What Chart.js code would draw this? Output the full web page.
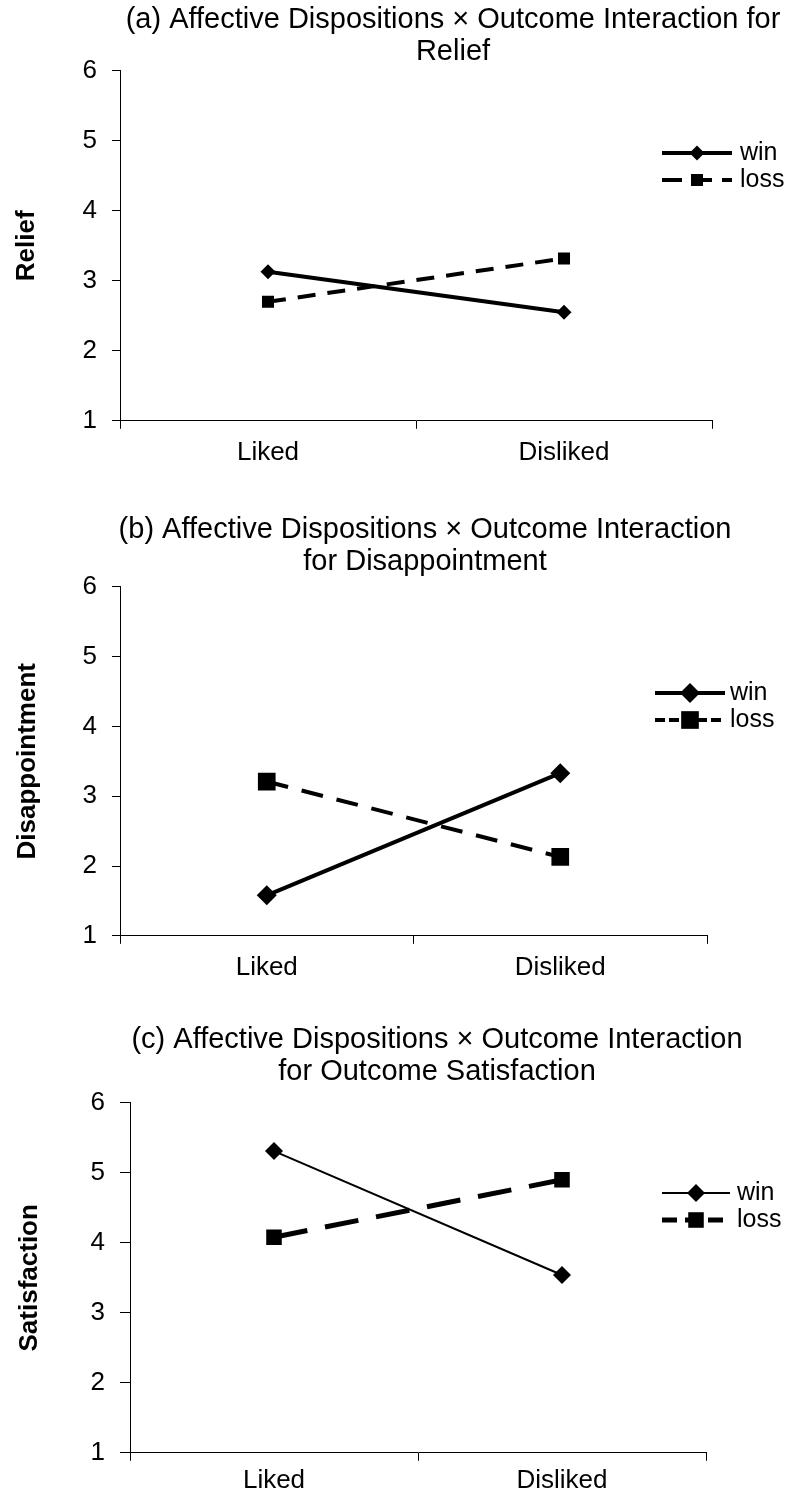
<!DOCTYPE html>
<html>
<head>
<meta charset="utf-8">
<title>Affective Dispositions x Outcome</title>
<script src="https://cdn.jsdelivr.net/npm/chart.js"></script>
<style>
  html, body { margin: 0; padding: 0; background: #fff; }
  body { width: 788px; height: 1492px; position: relative; overflow: hidden; }
  canvas { position: absolute; left: 0; }
</style>
</head>
<body>
<canvas id="relief_chart" width="906" height="480" style="top:0px"></canvas>
<canvas id="disappointment_chart" width="850" height="484" style="top:510px"></canvas>
<canvas id="satisfaction_chart" width="874" height="480" style="top:1020px"></canvas>
<script>
/* ----------------------------------------- */
/*                 data                      */
/* ----------------------------------------- */
const categories = ["Liked", "Disliked"];
const series_names = ["win", "loss"];

// (a) relief
const relief_win = [3.13, 2.55];
const relief_loss = [2.7, 3.32];

// (b) disappointment
const disappointment_win = [1.58, 3.33];
const disappointment_loss = [3.21, 2.13];

// (c) outcome satisfaction
const satisfaction_win = [5.31, 3.54];
const satisfaction_loss = [4.08, 4.9];

// y axis 1..6
const y_min = 1;
const y_max = 6;
const y_step = 1;

const title_a = ["(a) Affective Dispositions \u00d7 Outcome Interaction for", "Relief"];
const title_b = ["(b) Affective Dispositions \u00d7 Outcome Interaction", "for Disappointment"];
const title_c = ["(c) Affective Dispositions \u00d7 Outcome Interaction", "for Outcome Satisfaction"];

Chart.defaults.font.family = "'Liberation Sans', Arial, sans-serif";
Chart.defaults.color = "#000";

// legend: line + marker + label, drawn next to the plot like excel does
function drawMarker(ctx, style, r, x, y) {
  ctx.beginPath();
  if (style === "rectRot") {
    ctx.moveTo(x, y - r);
    ctx.lineTo(x + r, y);
    ctx.lineTo(x, y + r);
    ctx.lineTo(x - r, y);
  } else {
    const s = r * Math.SQRT1_2;
    ctx.rect(x - s, y - s, 2 * s, 2 * s);
  }
  ctx.closePath();
  ctx.fill();
}

const lineLegend = {
  id: "lineLegend",
  afterDraw(chart, args, opts) {
    const ctx = chart.ctx;
    chart.data.datasets.forEach((ds, i) => {
      const y = opts.y + i * opts.rowGap;
      const x0 = opts.x;
      const x1 = opts.x + opts.lineLength;
      ctx.save();
      ctx.strokeStyle = "#000";
      ctx.fillStyle = "#000";
      ctx.lineWidth = ds.borderWidth;
      ctx.setLineDash(opts.dashes[i]);
      ctx.beginPath();
      ctx.moveTo(x0, y);
      ctx.lineTo(x1, y);
      ctx.stroke();
      ctx.setLineDash([]);
      drawMarker(ctx, ds.pointStyle, ds.pointRadius, (x0 + x1) / 2, y);
      ctx.font = opts.fontSize + "px 'Liberation Sans', Arial, sans-serif";
      ctx.textBaseline = "middle";
      ctx.textAlign = "left";
      ctx.fillText(ds.label, x1 + opts.textGap, y);
      ctx.restore();
    });
  },
};

function makeDataset(label, values, width, dash, style, radius) {
  return {
    label: label,
    data: values,
    yAxisID: "y",
    borderColor: "#000",
    backgroundColor: "#000",
    borderWidth: width,
    borderDash: dash,
    fill: false,
    tension: 0,
    pointStyle: style,
    pointRadius: radius,
    pointBackgroundColor: "#000",
    pointBorderColor: "#000",
    pointBorderWidth: 0,
  };
}

function makeChart(id, o) {
  return new Chart(document.getElementById(id).getContext("2d"), {
    type: "line",
    data: {
      labels: categories,
      datasets: o.datasets,
    },
    options: {
      responsive: false,
      animation: false,
      events: [],
      layout: { padding: { top: 4, bottom: o.padBottom, left: 0, right: 0 } },
      plugins: {
        legend: { display: false },
        tooltip: { enabled: false },
        title: {
          display: true,
          text: o.title,
          color: "#000",
          font: { size: 29, weight: "normal", lineHeight: 1.1 },
          padding: { top: 0, bottom: o.titleGap },
        },
        lineLegend: o.legend,
      },
      scales: {
        x: {
          type: "category",
          offset: true,
          grid: {
            offset: true,
            drawOnChartArea: false,
            tickLength: 8,
            color: "#000",
          },
          border: { color: "#000", width: 1 },
          ticks: { padding: o.xPad, font: { size: 26 }, color: "#000" },
        },
        y: {
          type: "linear",
          position: "left",
          min: y_min,
          max: y_max,
          grid: { drawOnChartArea: false, tickLength: o.yTick, color: "#000" },
          border: { color: "#000", width: 1 },
          ticks: { stepSize: y_step, padding: 15, font: { size: 26 }, color: "#000" },
          title: {
            display: true,
            text: o.yTitle,
            font: { size: 26, weight: "bold" },
            padding: { top: o.yTitlePad, bottom: 0 },
          },
          afterFit(s) {
            s.width = o.left;
          },
        },
        // empty box on the right, keeps the title centred where the original has it
        space: {
          type: "linear",
          position: "right",
          display: true,
          grid: { display: false },
          border: { display: false },
          ticks: { display: false },
          afterFit(s) {
            s.width = o.right;
          },
        },
      },
    },
    plugins: [lineLegend],
  });
}

let chart_a = makeChart("relief_chart", {
  title: title_a,
  yTitle: "Relief",
  left: 120,
  right: 194,
  padBottom: 4,
  titleGap: 3,
  xPad: 8,
  yTick: 8,
  yTitlePad: 11,
  datasets: [
    makeDataset(series_names[0], relief_win, 4, [], "rectRot", 7.5),
    makeDataset(series_names[1], relief_loss, 4, [18, 12], "rect", 8.5),
  ],
  legend: { x: 662, y: 153, rowGap: 27, lineLength: 70, textGap: 8, fontSize: 25, dashes: [[], [20, 10]] },
});

let chart_b = makeChart("disappointment_chart", {
  title: title_b,
  yTitle: "Disappointment",
  left: 120,
  right: 143,
  padBottom: 3,
  titleGap: 9,
  xPad: 8,
  yTick: 8,
  yTitlePad: 12,
  datasets: [
    makeDataset(series_names[0], disappointment_win, 4, [], "rectRot", 10),
    makeDataset(series_names[1], disappointment_loss, 4, [22, 14], "rect", 12.5),
  ],
  legend: { x: 655, y: 183, rowGap: 27, lineLength: 70, textGap: 5, fontSize: 25, dashes: [[], [10, 4]] },
});

let chart_c = makeChart("satisfaction_chart", {
  title: title_c,
  yTitle: "Satisfaction",
  left: 130,
  right: 168,
  padBottom: 0,
  titleGap: 15,
  xPad: 4,
  yTick: 10,
  yTitlePad: 14,
  datasets: [
    makeDataset(series_names[0], satisfaction_win, 2, [], "rectRot", 9),
    makeDataset(series_names[1], satisfaction_loss, 5, [34, 18], "rect", 11),
  ],
  legend: { x: 662, y: 173, rowGap: 27, lineLength: 68, textGap: 7, fontSize: 25, dashes: [[], [15, 8]] },
});
</script>
</body>
</html>
